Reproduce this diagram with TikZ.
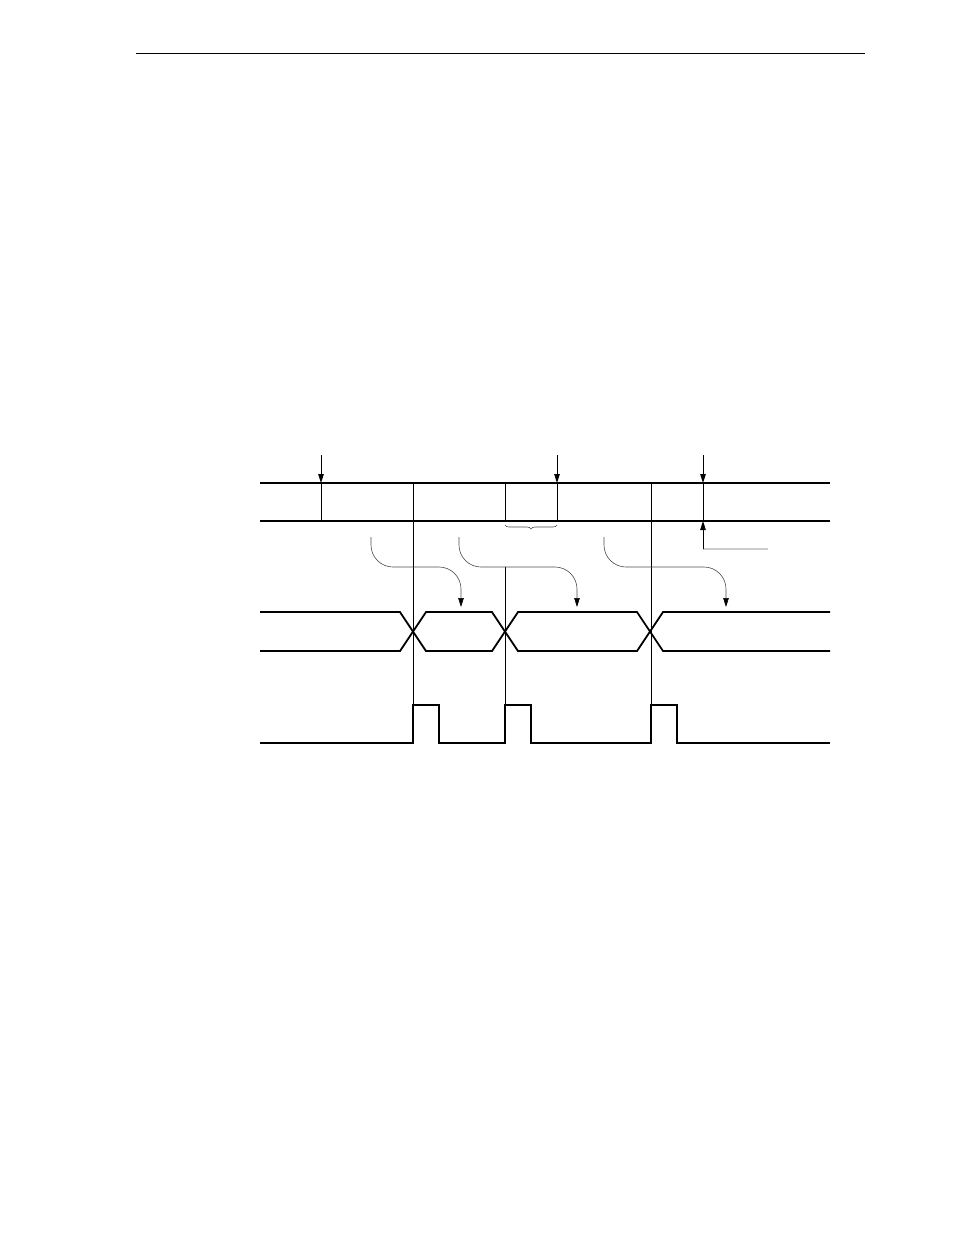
\documentclass[tikz,border=0pt]{standalone}
\usepackage{tikz}
\usetikzlibrary{arrows.meta}
\usetikzlibrary{decorations.pathreplacing}

\tikzset{
  rule/.style={line width=1pt},
  bus/.style={line width=1.3pt},
  wave/.style={line width=1.8pt},
  tick/.style={line width=0.9pt},
  flow/.style={-{Triangle[length=9pt,width=5.5pt,black]},gray!60!black,line width=0.6pt,rounded corners=22pt},
  hint/.style={gray!40,line width=1.2pt}
}

\begin{document}
\begin{tikzpicture}[x=1pt,y=-1pt,>={Triangle[length=9pt,width=5.5pt]},semithick]
  \useasboundingbox (0,0) rectangle (954,1235);

  % page header rule
  \draw[rule] (136,53) -- (865,53);

  % edge positions
  \coordinate (e1) at (413,0);
  \coordinate (e2) at (505,0);
  \coordinate (e3) at (651,0);
  \coordinate (busT) at (0,483);
  \coordinate (busB) at (0,521);

  % bus row
  \draw[bus] (260,483) -- (830,483);
  \draw[bus] (260,521) -- (830,521);
  \foreach \x in {321,413,505,557,651,703}
    \draw[tick] (\x,483) -- (\x,521);

  % sampling arrows
  \foreach \x [count=\i] in {321,557,703} {
    \coordinate (s\i) at (\x,455);
    \draw[->,tick] (s\i) -- (s\i |- busT);
  }
  \coordinate (back) at (768,549);
  \draw[hint] (back) -- (703,549);
  \draw[->,tick] (703,549) -- (703,521);

  % brace under the short slot
  \draw[gray!60!black,line width=0.6pt,decorate,decoration={brace,amplitude=4pt,mirror}]
    (505,525) -- (557,525);

  % data lines with crossings
  \draw[wave] (260,612) -- (400,612) -- (426,651) -- (492,651) -- (518,612) -- (637,612) -- (663,651) -- (830,651);
  \draw[wave] (260,651) -- (400,651) -- (426,612) -- (492,612) -- (518,651) -- (637,651) -- (663,612) -- (830,612);

  % strobe pulses
  \draw[wave] (260,743) -- (413,743) -- (413,705) -- (439,705) -- (439,743)
    -- (505,743) -- (505,705) -- (531,705) -- (531,743)
    -- (651,743) -- (651,705) -- (677,705) -- (677,743) -- (830,743);

  % guide lines from bus to pulses
  \draw[tick] (e1 |- busB) -- (413,705);
  \draw[tick] (505,567) -- (505,705);
  \draw[tick] (e3 |- busB) -- (651,705);

  % data valid arrows
  \coordinate (d1) at (461,607);
  \coordinate (d2) at (577,607);
  \coordinate (d3) at (726,607);
  \draw[flow] (371,537) |- (461,567) -- (d1);
  \draw[flow] (459,537) |- (577,567) -- (d2);
  \draw[flow] (604,537) |- (726,567) -- (d3);
\end{tikzpicture}
\end{document}
